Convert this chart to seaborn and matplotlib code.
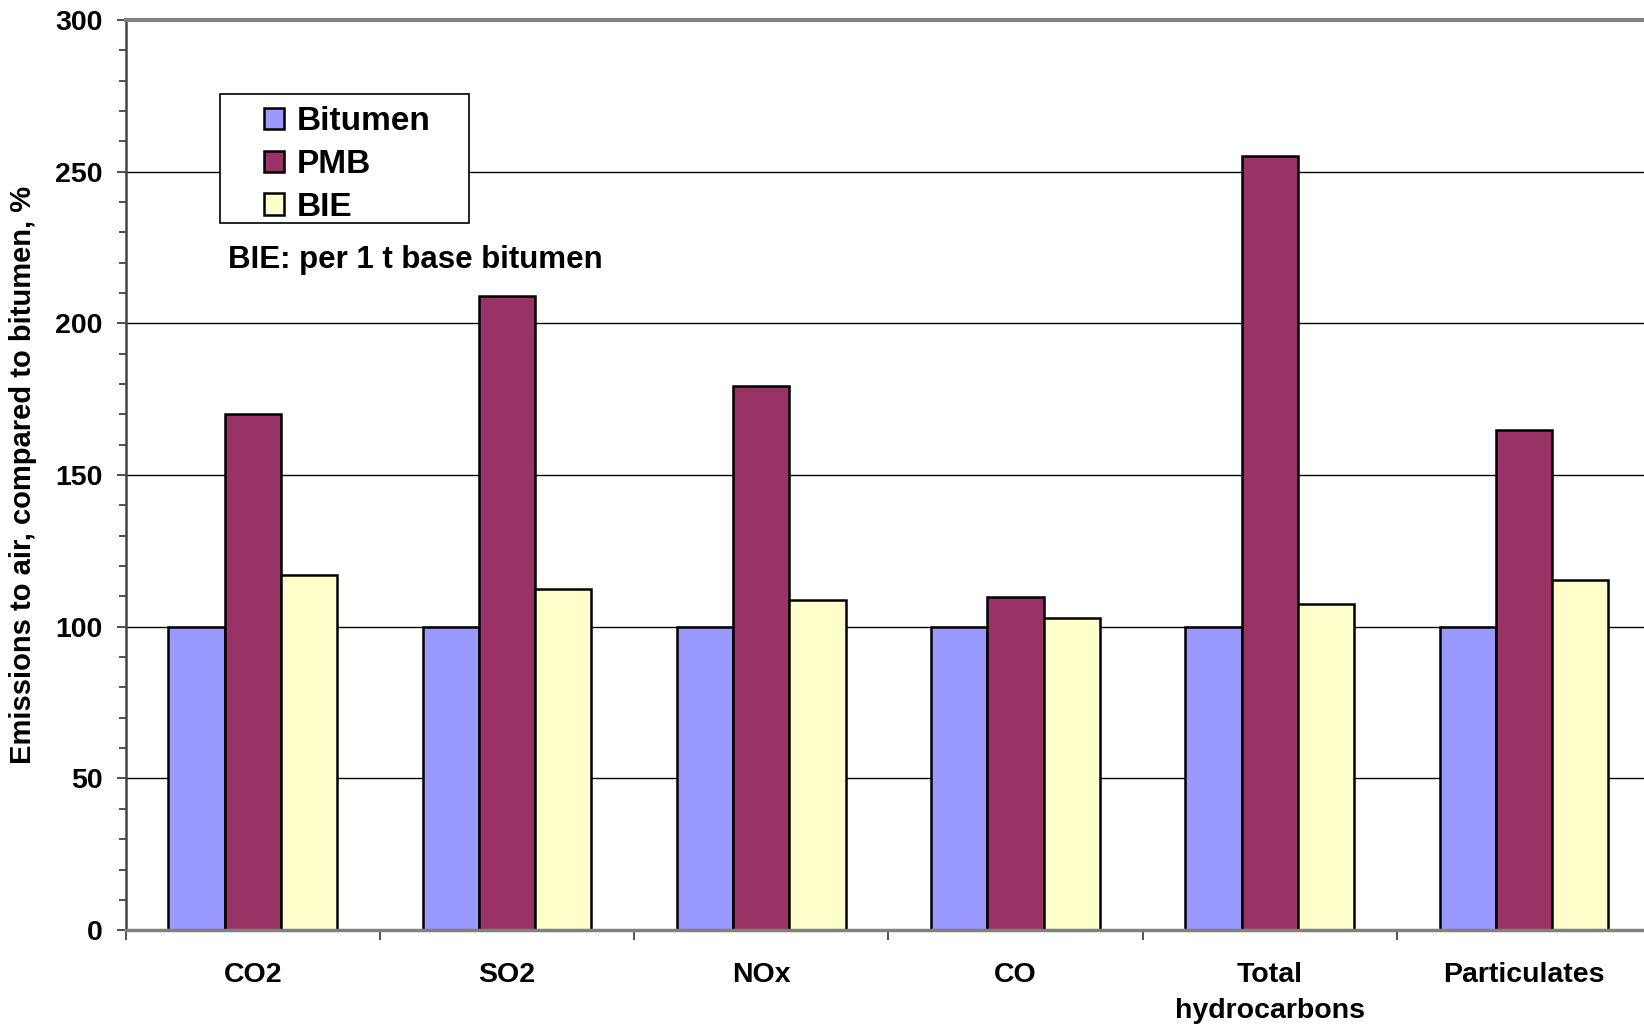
import pandas as pd
import matplotlib
matplotlib.use('Agg')
import matplotlib.pyplot as plt
import seaborn as sns
from matplotlib.patches import Rectangle
from matplotlib.ticker import MultipleLocator, FixedLocator

# values (% of bitumen)
pollutants = ['CO2', 'SO2', 'NOx', 'CO', 'Total\nhydrocarbons', 'Particulates']
bitumen = [100, 100, 100, 100, 100, 100]
pmb = [170.1, 209.1, 179.2, 109.8, 255.3, 164.7]
bie = [117.2, 112.5, 108.9, 103.0, 107.5, 115.4]
materials = ['Bitumen', 'PMB', 'BIE']
colors = ['#9999FF', '#993366', '#FFFFCC']


def main():
    sns.set_style('white')
    plt.rcParams['font.family'] = ['Liberation Sans', 'DejaVu Sans']
    plt.rcParams['font.weight'] = 'bold'
    plt.rcParams['text.color'] = 'black'
    plt.rcParams['axes.labelcolor'] = 'black'
    plt.rcParams['xtick.color'] = 'black'
    plt.rcParams['ytick.color'] = 'black'

    # long format table for seaborn
    rows = []
    for name, vals in zip(materials, [bitumen, pmb, bie]):
        for p, v in zip(pollutants, vals):
            rows.append({'pollutant': p, 'material': name, 'value': v})
    df = pd.DataFrame(rows)

    fig = plt.figure(figsize=(16.44, 10.25), dpi=100)
    ax = fig.add_axes([0.0765, 0.0925, 1.0043 - 0.0765, 0.9806 - 0.0925])

    sns.barplot(data=df, x='pollutant', y='value', hue='material',
                order=pollutants, hue_order=materials, palette=colors,
                saturation=1, width=0.664, edgecolor='black', linewidth=1.8,
                errorbar=None, ax=ax)

    ax.set_xlim(-0.5, 5.5)
    ax.set_ylim(0, 300)
    ax.set_axisbelow(True)
    ax.yaxis.set_major_locator(MultipleLocator(50))
    ax.yaxis.set_minor_locator(MultipleLocator(10))
    ax.grid(axis='y', which='major', color='black', linewidth=1.0)

    # category separators as minor ticks on x
    ax.xaxis.set_minor_locator(FixedLocator([i - 0.5 for i in range(7)]))
    ax.tick_params(axis='x', which='major', length=0, pad=23, labelsize=20.5,
                   labelcolor='black')
    ax.tick_params(axis='x', which='minor', length=7.2, width=1.2,
                   direction='out', color='#333333', bottom=True)
    ax.tick_params(axis='y', which='major', length=6.8, width=1.2,
                   direction='out', color='#333333', left=True, pad=10,
                   labelsize=20.5, labelcolor='black')
    ax.tick_params(axis='y', which='minor', length=5, width=1.2,
                   direction='out', color='#333333', left=True)
    for lab in ax.get_xticklabels() + ax.get_yticklabels():
        lab.set_fontweight('bold')
        lab.set_multialignment('center')
    for lab in ax.get_xticklabels():
        lab.set_linespacing(1.5)

    ax.set_xlabel('')
    ax.set_ylabel('Emissions to air, compared to bitumen, %', fontsize=21,
                  fontweight='bold', va='center', color='black')
    ax.yaxis.set_label_coords(-0.0674, 0.5)

    for side in ['top', 'bottom', 'left', 'right']:
        ax.spines[side].set_visible(True)
    ax.spines['top'].set_color('#808080')
    ax.spines['top'].set_linewidth(3)
    ax.spines['bottom'].set_color('#808080')
    ax.spines['bottom'].set_linewidth(2.5)
    ax.spines['left'].set_color('#444444')
    ax.spines['left'].set_linewidth(1.8)
    ax.spines['right'].set_color('#808080')

    # legend: own frame behind, seaborn handles in front
    handles, labels = ax.get_legend_handles_labels()
    if ax.get_legend() is not None:
        ax.get_legend().remove()
    ax.add_patch(Rectangle((0.0616, 0.7766), 0.1631, 0.1417,
                           transform=ax.transAxes, facecolor='white',
                           edgecolor='black', linewidth=1.2, zorder=4))
    for h in handles:
        h.set_edgecolor('black')
        h.set_linewidth(1.8)
    leg = ax.legend(handles, labels, loc='upper left',
                    bbox_to_anchor=(0.0906, 0.9049), borderaxespad=0,
                    borderpad=0, frameon=False, handlelength=0.6,
                    handleheight=0.6, handletextpad=0.38, labelspacing=0.35,
                    prop={'size': 24, 'weight': 'bold'})
    leg.set_zorder(5)
    for t in leg.get_texts():
        t.set_color('black')

    ax.text(0.0668, 0.7271, 'BIE: per 1 t base bitumen', transform=ax.transAxes,
            fontsize=22.5, fontweight='bold', va='baseline', ha='left',
            color='black', zorder=5)

    fig.savefig('out.png', dpi=100)


if __name__ == "__main__":
    main()
